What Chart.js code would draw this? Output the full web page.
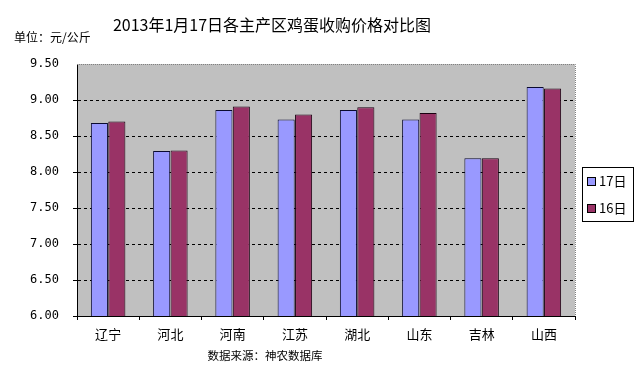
<!DOCTYPE html>
<html>
<head>
<meta charset="utf-8">
<script src="https://cdn.jsdelivr.net/npm/chart.js@4"></script>
<style>
  html, body { margin: 0; padding: 0; background: #fff; }
  #wrap { width: 639px; height: 367px; }
</style>
</head>
<body>
<div id="wrap"><canvas id="myChart" width="639" height="367"></canvas></div>
<script>
var regions = ['辽宁', '河北', '河南', '江苏', '湖北', '山东', '吉林', '山西'];
var price17 = [8.68, 8.29, 8.86, 8.73, 8.86, 8.73, 8.19, 9.18];
var price16 = [8.70, 8.30, 8.91, 8.80, 8.90, 8.82, 8.19, 9.16];
var seriesNames = ['17日', '16日'];
var yTicks = [6.00, 6.50, 7.00, 7.50, 8.00, 8.50, 9.00, 9.50];
var chartTitle = '2013年1月17日各主产区鸡蛋收购价格对比图';

var cjk = '"Noto Sans CJK SC", "DejaVu Sans", sans-serif';

// background of the plot area + dotted top/right border
var plotBg = {
    id: 'plotBg',
    beforeDraw: function (chart) {
        var a = chart.chartArea, c = chart.ctx;
        c.save();
        c.fillStyle = '#c0c0c0';
        c.fillRect(a.left, a.top, a.right - a.left, a.bottom - a.top);
        c.restore();
    },
    afterDatasetsDraw: function (chart) {
        var a = chart.chartArea, c = chart.ctx;
        c.save();
        c.strokeStyle = '#808080';
        c.lineWidth = 1;
        c.setLineDash([1, 1]);
        c.beginPath();
        c.moveTo(a.left, a.top + 0.5);
        c.lineTo(a.right + 0.5, a.top + 0.5);
        c.lineTo(a.right + 0.5, a.bottom);
        c.stroke();
        c.restore();
    }
};

// title, unit text, source note and the boxed legend
var extras = {
    id: 'extras',
    afterDraw: function (chart) {
        var c = chart.ctx;
        c.save();
        c.fillStyle = '#000';
        c.textBaseline = 'middle';
        c.textAlign = 'center';
        c.font = '16px ' + cjk;
        c.fillText(chartTitle, 272, 25);
        c.font = '12px ' + cjk;
        c.textAlign = 'left';
        c.fillText('单位：元/公斤', 14, 37);
        c.textAlign = 'center';
        c.font = '11.5px ' + cjk;
        c.fillText('数据来源：神农数据库', 265, 356);

        // legend
        var lx = 582, ly = 167, lw = 51, lh = 54;
        c.fillStyle = '#fff';
        c.fillRect(lx, ly, lw, lh);
        c.strokeStyle = '#000';
        c.lineWidth = 1;
        c.strokeRect(lx + 0.5, ly + 0.5, lw, lh);
        chart.data.datasets.forEach(function (ds, i) {
            var y = ly + 14 + i * 27;
            c.fillStyle = ds.backgroundColor;
            c.fillRect(lx + 5, y - 4, 8, 8);
            c.strokeStyle = '#000';
            c.strokeRect(lx + 5.5, y - 3.5, 8, 8);
            c.fillStyle = '#000';
            c.textAlign = 'left';
            c.font = '13px ' + cjk;
            c.fillText(ds.label, lx + 17, y);
        });
        c.restore();
    }
};

var ctx = document.querySelector('#myChart').getContext('2d');
var myChart = new Chart(ctx, {
    type: 'bar',
    data: {
        labels: regions,
        datasets: [{
            label: seriesNames[0],
            data: price17,
            backgroundColor: '#9999ff',
            borderColor: '#0a0a30',
            borderWidth: 1
        }, {
            label: seriesNames[1],
            data: price16,
            backgroundColor: '#993366',
            borderColor: '#1a0010',
            borderWidth: 1
        }]
    },
    options: {
        responsive: false,
        animation: false,
        layout: { padding: { top: 64, right: 64, bottom: 0, left: 0 } },
        datasets: {
            bar: { categoryPercentage: 0.56, barPercentage: 0.98 }
        },
        plugins: {
            legend: { display: false },
            tooltip: { enabled: false },
            title: { display: false }
        },
        scales: {
            x: {
                grid: {
                    display: true,
                    drawOnChartArea: false,
                    offset: true,
                    tickLength: 4,
                    color: '#000'
                },
                border: { color: '#000', width: 1 },
                ticks: {
                    color: '#000',
                    font: { family: cjk, size: 13 },
                    padding: 6
                },
                afterFit: function (scale) { scale.height = 51; }
            },
            y: {
                min: 6,
                max: 9.5,
                afterBuildTicks: function (scale) {
                    scale.ticks = yTicks.map(function (v) { return { value: v }; });
                },
                grid: {
                    color: '#000',
                    lineWidth: function (c) { return c.tick.value === 9.5 ? 0 : 1; },
                    tickLength: 4
                },
                border: { color: '#000', width: 1, dash: [3, 3] },
                ticks: {
                    color: '#000',
                    font: { family: '"DejaVu Sans Mono", monospace', size: 12 },
                    padding: 14,
                    callback: function (v) { return Number(v).toFixed(2); }
                },
                afterFit: function (scale) { scale.width = 77; }
            }
        }
    },
    plugins: [plotBg, extras]
});
</script>
</body>
</html>
